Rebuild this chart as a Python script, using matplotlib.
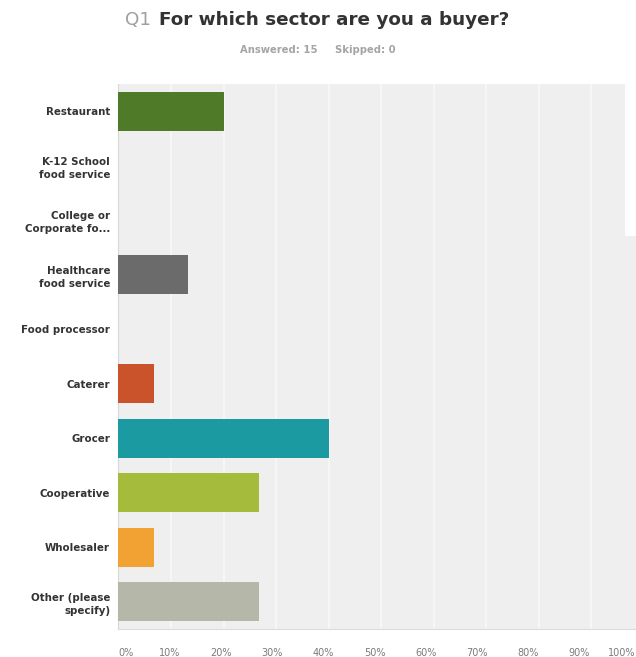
import matplotlib.pyplot as plt
from matplotlib.patches import Rectangle
from matplotlib.transforms import ScaledTranslation

# Survey results: Q1 sector of buyer (15 answered)
sectors = ["Restaurant", "K-12 School\nfood service", "College or\nCorporate fo...",
           "Healthcare\nfood service", "Food processor", "Caterer", "Grocer",
           "Cooperative", "Wholesaler", "Other (please\nspecify)"]
percent = [20.0, 0.0, 0.0, 13.33, 0.0, 6.67, 40.0, 26.67, 6.67, 26.67]
bar_colors = ["#4f7a28", "#4f7a28", "#4f7a28", "#6b6b6b", "#6b6b6b",
              "#cb532b", "#1b9aa2", "#a4bb3c", "#f2a232", "#b5b7a8"]
tick_values = [0, 10, 20, 30, 40, 50, 60, 70, 80, 90, 100]
tick_labels = ["0%", "10%", "20%", "30%", "40%", "50%", "60%", "70%", "80%", "90%", "100%"]

W, H = 636, 657
fig = plt.figure(figsize=(W / 100, H / 100), dpi=100)
fig.patch.set_facecolor("white")

# axes runs a little past the right edge, as in the survey export
left, right, top, bottom = 118.5, 643.5, 84, 629
ax = fig.add_axes([left / W, 1 - bottom / H, (right - left) / W, (bottom - top) / H])
ax.set_facecolor("#efefef")

ypos = list(range(len(sectors)))
ax.barh(ypos, percent, height=0.72, color=bar_colors, zorder=3)

ax.set_xlim(0, 100)
ax.set_ylim(len(sectors) - 0.5, -0.5)
ax.set_xticks(tick_values)
ax.set_xticklabels(tick_labels, fontsize=7, color="#7a7a7a")
ax.set_yticks(ypos)
ax.set_yticklabels(sectors, fontsize=7.4, fontweight="bold", color="#333333",
                   linespacing=1.35)
ax.tick_params(axis="both", length=0)
ax.tick_params(axis="x", pad=14)
ax.tick_params(axis="y", pad=6)

# x labels creep left of their gridlines; keep the first and last inside
for t, lab in zip(tick_values, ax.get_xticklabels()):
    if t == 0:
        lab.set_ha("left")
    elif t == 100:
        lab.set_ha("right")
        dx = (W - 1 - right) / 100
        lab.set_transform(lab.get_transform() + ScaledTranslation(dx, 0, fig.dpi_scale_trans))
    else:
        dx = -0.13 * t / 100
        lab.set_transform(lab.get_transform() + ScaledTranslation(dx, 0, fig.dpi_scale_trans))

ax.grid(axis="x", color="white", linewidth=1.4, alpha=0.5, zorder=1)
ax.set_axisbelow(True)
for side in ["top", "right"]:
    ax.spines[side].set_visible(False)
ax.spines["left"].set_color("#d8d8d8")
ax.spines["bottom"].set_color("#dcdcdc")

# title and response counts
fig.text(151 / W, 1 - 20 / H, "Q1", fontsize=13.2, color="#a0a0a0", ha="right",
         va="center")
fig.text(159 / W, 1 - 20 / H, "For which sector are you a buyer?", fontsize=13.2,
         fontweight="bold", color="#333333", ha="left", va="center")
fig.text(318 / W, 1 - 50 / H, "Answered: 15     Skipped: 0", fontsize=7.2,
         fontweight="bold", color="#a4a4a4", ha="center", va="center")

# white block over the upper right corner of the plot
fig.patches.append(Rectangle((625 / W, 1 - 236 / H), 11 / W, 152 / H,
                             transform=fig.transFigure, facecolor="white",
                             edgecolor="none", zorder=5))

fig.savefig("out.png", dpi=100)
